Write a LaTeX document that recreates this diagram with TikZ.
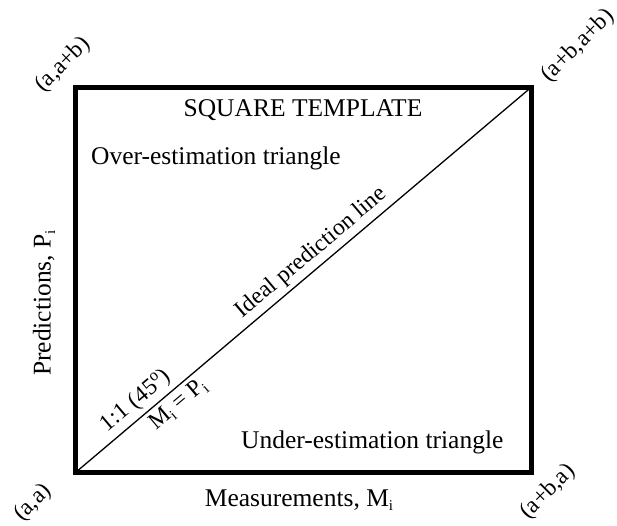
\documentclass[tikz,border=0pt]{standalone}
\usepackage{fontspec}
\setmainfont{Liberation Serif}
\newcommand\lowi{\raisebox{-0.4ex}{\fontsize{15}{15}\selectfont i}}
\begin{document}
\begin{tikzpicture}[x=1pt,y=-1pt,
  lbl/.style={font=\fontsize{25.5}{30}\selectfont, inner sep=0pt},
  onln/.style={font=\fontsize{23.5}{28}\selectfont, inner sep=0pt, sloped},
  corner/.style={font=\fontsize{23.5}{26}\selectfont, rotate=45, inner sep=0pt},
  frame/.style={line width=5pt},
  ideal/.style={line width=1.3pt}]
\useasboundingbox (0,0) rectangle (617,525);
\coordinate (BL) at (75.5,472.5);
\coordinate (TR) at (531,87.5);
\draw[frame] (BL) rectangle (TR);
\draw[ideal] (BL) -- (TR)
  node[onln, pos=0.54, above=4pt] (ideal) {Ideal prediction line}
  node[onln, pos=0.155, above=4pt] (ratio) {1:1 (45\textsuperscript{o})}
  node[onln, pos=0.205, below=4pt] (eq) {M\lowi\ = P\lowi};
\node[lbl] (title) at (303,110) {SQUARE TEMPLATE};
\node[lbl, anchor=west] (over) at (91,158) {Over-estimation triangle};
\node[lbl, anchor=west] (under) at (241,442) {Under-estimation triangle};
\node[lbl] (meas) at (299,500) {Measurements, M\lowi};
\node[lbl, rotate=90] (pred) at (44,303) {Predictions, P\lowi};
\node[corner] (c1) at (63,65) {(a,a+b)};
\node[corner] (c2) at (578,46) {(a+b,a+b)};
\node[corner] (c3) at (33,503) {(a,a)};
\node[corner] (c4) at (548,492) {(a+b,a)};
\end{tikzpicture}
\end{document}
